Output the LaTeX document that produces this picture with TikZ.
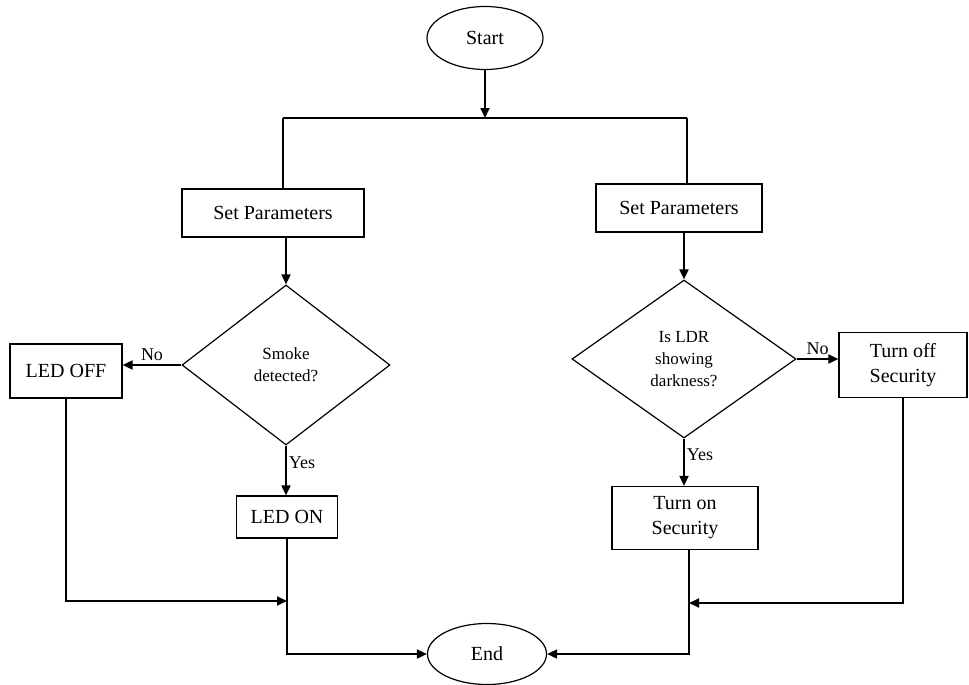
\documentclass[tikz,border=0pt]{standalone}
\usepackage{fontspec}
\setmainfont{Liberation Serif}
\usepackage{tikz}
\usetikzlibrary{arrows.meta,shapes}

\begin{document}
\begin{tikzpicture}[x=1pt,y=-1pt,>={Triangle[length=10pt,width=9pt]},line width=1.8pt]
 \tikzstyle{every node}=[inner sep=0pt]
 \tikzstyle{term}=[draw,ellipse,line width=1.2pt,font=\fontsize{20}{24}\selectfont]
 \tikzstyle{proc}=[draw,rectangle,line width=1.2pt,align=center,font=\fontsize{20}{25}\selectfont]
 \tikzstyle{decision}=[draw,diamond,line width=1.2pt,align=center,font=\fontsize{17}{22}\selectfont]
 \tikzstyle{lbl}=[font=\fontsize{18}{20}\selectfont]

   \useasboundingbox (0,0) rectangle (969,685);

   \node[term,minimum width=116pt,minimum height=63pt] (start) at (485,38) {Start};
   \node[proc,minimum width=182pt,minimum height=48pt] (sp1) at (273,213) {Set Parameters};
   \node[proc,minimum width=166pt,minimum height=48pt] (sp2) at (679,208) {Set Parameters};
   \node[decision,minimum width=208pt,minimum height=160pt] (smoke) at (286,365) {Smoke\\detected?};
   \node[decision,minimum width=224pt,minimum height=158pt] (ldr) at (684,359) {Is LDR\\showing\\darkness?};
   \node[proc,minimum width=112pt,minimum height=54pt] (ledoff) at (66,371) {LED OFF};
   \node[proc,minimum width=128pt,minimum height=65pt] (secoff) at (903,365) {Turn off\\Security};
   \node[proc,minimum width=101pt,minimum height=42pt] (ledon) at (287,517) {LED ON};
   \node[proc,minimum width=146pt,minimum height=63pt] (secon) at (685,518) {Turn on\\Security};
   \node[term,minimum width=119pt,minimum height=61pt] (end) at (487,654) {End};

   \coordinate (split) at (485,118);
   \coordinate (splitl) at (283,118);
   \coordinate (splitr) at (687,118);
   \coordinate (joinl) at (287,601);
   \coordinate (joinr) at (689,603);

  \draw (splitl) -- (splitr);
  \draw (splitl) -- (splitl |- sp1.north);
  \draw (splitr) -- (splitr |- sp2.north);

  \path[->]
    (start) edge (split)
    (sp1.south -| smoke) edge (smoke.north)
    (sp2.south -| ldr) edge (ldr.north)
    (smoke.west) edge node[lbl,above,yshift=3pt] {No} (ledoff.east |- smoke.west)
    (smoke.south) edge node[lbl,right,pos=0.35,xshift=2pt] {Yes} (ledon.north -| smoke)
    (ldr.east) edge node[lbl,above,yshift=3pt] {No} (secoff.west |- ldr.east)
    (ldr.south) edge node[lbl,right,pos=0.35,xshift=2pt] {Yes} (secon.north -| ldr);

  \draw[->] (ledoff.south) |- (joinl);
  \draw[->] (secoff.south) |- (joinr);
  \draw[->] (ledon.south) |- (end.west);
  \draw[->] (secon.south -| joinr) |- (end.east);

\end{tikzpicture}
\end{document}
